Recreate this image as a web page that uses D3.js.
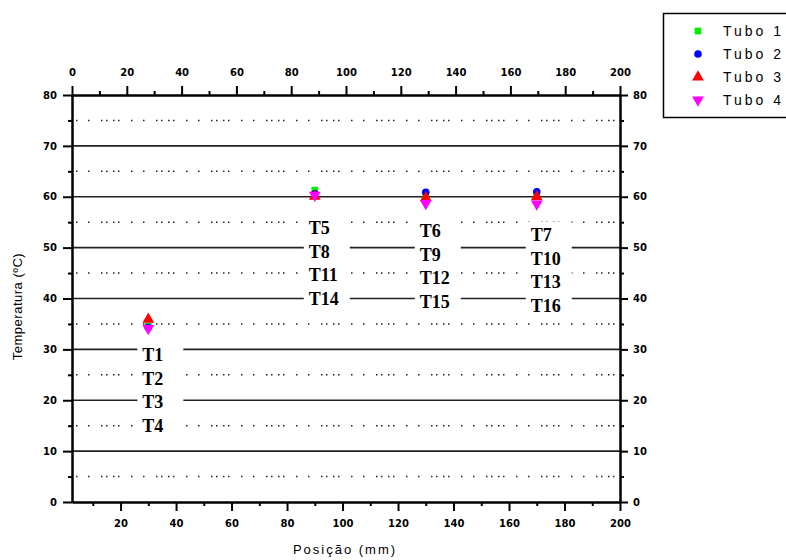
<!DOCTYPE html>
<html>
<head>
<meta charset="utf-8">
<script src="https://cdn.jsdelivr.net/npm/d3@7"></script>
<style>
  body { margin: 0; background: #fff; }
  svg { display: block; }
  .tick text { font-family: "DejaVu Sans", sans-serif; font-weight: bold; font-size: 10px; }
  .axis path, .axis line { stroke: #000; stroke-width: 2; }
</style>
</head>
<body>
<svg id="chart" width="786" height="560"></svg>
<script>
// positions of the tubes along the pipe (mm)
const positions = [30, 90, 130, 170];

// temperatures per tube (ºC)
const tubo1 = [34.6, 61.3, 59.8, 60.1];
const tubo2 = [34.3, 60.6, 60.9, 61.0];
const tubo3 = [35.9, 60.1, 59.8, 60.0];
const tubo4 = [34.1, 60.3, 58.7, 58.6];

const seriesNames = ["Tubo 1", "Tubo 2", "Tubo 3", "Tubo 4"];

// sensor labels next to each position
const sensorLabels = [
  ["T1", "T2", "T3", "T4"],
  ["T5", "T8", "T11", "T14"],
  ["T6", "T9", "T12", "T15"],
  ["T7", "T10", "T13", "T16"]
];
const labelTopTemp = [28.9, 53.9, 53.3, 52.5];

const yMajor = [0, 10, 20, 30, 40, 50, 60, 70, 80];
const yMinor = [5, 15, 25, 35, 45, 55, 65, 75];
const xMajor = [20, 40, 60, 80, 100, 120, 140, 160, 180, 200];
const xMinor = [10, 30, 50, 70, 90, 110, 130, 150, 170, 190];
const xTopMajor = [0, 20, 40, 60, 80, 100, 120, 140, 160, 180, 200];

const svg = d3.select("#chart");
const mLeft = 72, mRight = 620, mTop = 95, mBottom = 502;

const x = d3.scaleLinear().domain([2.5, 200]).range([mLeft, mRight]);
const xTop = d3.scaleLinear().domain([0, 200]).range([mLeft, mRight]);
const y = d3.scaleLinear().domain([0, 80]).range([mBottom, mTop]);

// grid lines
const grid = svg.append("g");
grid.selectAll(".solid").data(yMajor.filter(d => d > 0 && d < 80)).enter()
  .append("line")
  .attr("x1", mLeft).attr("x2", mRight)
  .attr("y1", d => y(d)).attr("y2", d => y(d))
  .attr("stroke", "#222").attr("stroke-width", 1.6);
grid.selectAll(".dot").data(yMinor).enter()
  .append("line")
  .attr("x1", mLeft + 4).attr("x2", mRight)
  .attr("y1", d => y(d)).attr("y2", d => y(d))
  .attr("stroke", "#222").attr("stroke-width", 1.5)
  .attr("stroke-dasharray", "1.5,10.5,1.5,11.5,1.5,3.5,1.5,5.5,1.5,3.5,1.5,11.5");

// white boxes behind the sensor labels
const lineH = 23.5;
const boxes = svg.append("g");
sensorLabels.forEach((labs, i) => {
  const cx = x(positions[i]);
  const cy = y(labelTopTemp[i]);
  boxes.append("rect")
    .attr("x", cx - 11).attr("width", 46)
    .attr("y", cy - 13).attr("height", lineH * (labs.length - 1) + 26)
    .attr("fill", "#fff");
  boxes.selectAll(null).data(labs).enter()
    .append("text")
    .attr("x", cx - 6)
    .attr("y", (d, j) => cy + j * lineH)
    .attr("dy", "0.35em")
    .attr("font-family", "'Liberation Serif', 'Times New Roman', serif")
    .attr("font-weight", "bold")
    .attr("font-size", 18)
    .text(d => d);
});

// axes
function styleAxis(g) {
  g.attr("class", "axis");
}
svg.append("g").attr("transform", `translate(${mLeft},0)`)
  .call(d3.axisLeft(y).tickValues(yMajor).tickSize(9).tickPadding(6).tickSizeOuter(0)).call(styleAxis);
svg.append("g").attr("transform", `translate(${mLeft},0)`)
  .call(d3.axisLeft(y).tickValues(yMinor).tickSize(4).tickFormat("").tickSizeOuter(0)).call(styleAxis);
svg.append("g").attr("transform", `translate(${mRight},0)`)
  .call(d3.axisRight(y).tickValues(yMajor).tickSize(8).tickPadding(5).tickSizeOuter(0)).call(styleAxis);
svg.append("g").attr("transform", `translate(${mRight},0)`)
  .call(d3.axisRight(y).tickValues(yMinor).tickSize(4).tickFormat("").tickSizeOuter(0)).call(styleAxis);
svg.append("g").attr("transform", `translate(0,${mBottom})`)
  .call(d3.axisBottom(x).tickValues(xMajor).tickSize(9).tickPadding(9).tickSizeOuter(0)).call(styleAxis);
svg.append("g").attr("transform", `translate(0,${mBottom})`)
  .call(d3.axisBottom(x).tickValues(xMinor).tickSize(4).tickFormat("").tickSizeOuter(0)).call(styleAxis);
svg.append("g").attr("transform", `translate(0,${mTop})`)
  .call(d3.axisTop(xTop).tickValues(xTopMajor).tickSize(9).tickPadding(10).tickSizeOuter(0)).call(styleAxis);
svg.append("g").attr("transform", `translate(0,${mTop})`)
  .call(d3.axisTop(xTop).tickValues(xMinor).tickSize(4).tickFormat("").tickSizeOuter(0)).call(styleAxis);

// markers
const colors = ["#00ee00", "#0000ff", "#ff0000", "#ff00ff"];
const shapes = [d3.symbolSquare, d3.symbolCircle, d3.symbolTriangle, d3.symbolTriangle];
const sizes = [45, 45, 60, 60];
const allSeries = [tubo1, tubo2, tubo3, tubo4];

allSeries.forEach((vals, i) => {
  svg.append("g").selectAll("path").data(vals).enter()
    .append("path")
    .attr("d", d3.symbol().type(shapes[i]).size(sizes[i])())
    .attr("fill", colors[i])
    .attr("transform", (d, j) => `translate(${x(positions[j])},${y(d)})` + (i === 3 ? " rotate(180)" : ""));
});

// axis titles
svg.append("text")
  .attr("transform", `translate(22,${(mTop + mBottom) / 2 + 8}) rotate(-90)`)
  .attr("text-anchor", "middle")
  .attr("font-family", "'Liberation Sans', Arial, sans-serif")
  .attr("font-size", 13)
  .attr("letter-spacing", 0.5)
  .text("Temperatura (ºC)");
svg.append("text")
  .attr("x", 345).attr("y", 554)
  .attr("text-anchor", "middle")
  .attr("font-family", "'Liberation Sans', Arial, sans-serif")
  .attr("font-size", 13)
  .attr("letter-spacing", 2)
  .text("Posição (mm)");

// legend
const legend = svg.append("g");
legend.append("rect")
  .attr("x", 663.5).attr("y", 13.5).attr("width", 140).attr("height", 104)
  .attr("fill", "#fff").attr("stroke", "#000").attr("stroke-width", 1.5);
seriesNames.forEach((name, i) => {
  const ly = 31 + i * 23;
  legend.append("path")
    .attr("d", d3.symbol().type(shapes[i]).size(sizes[i])())
    .attr("fill", colors[i])
    .attr("transform", `translate(698,${ly})` + (i === 3 ? " rotate(180)" : ""));
  legend.append("text")
    .attr("x", 723).attr("y", ly).attr("dy", "0.35em")
    .attr("font-family", "'Liberation Sans', Arial, sans-serif")
    .attr("font-size", 14)
    .attr("letter-spacing", 3)
    .text(name);
});
</script>
</body>
</html>
